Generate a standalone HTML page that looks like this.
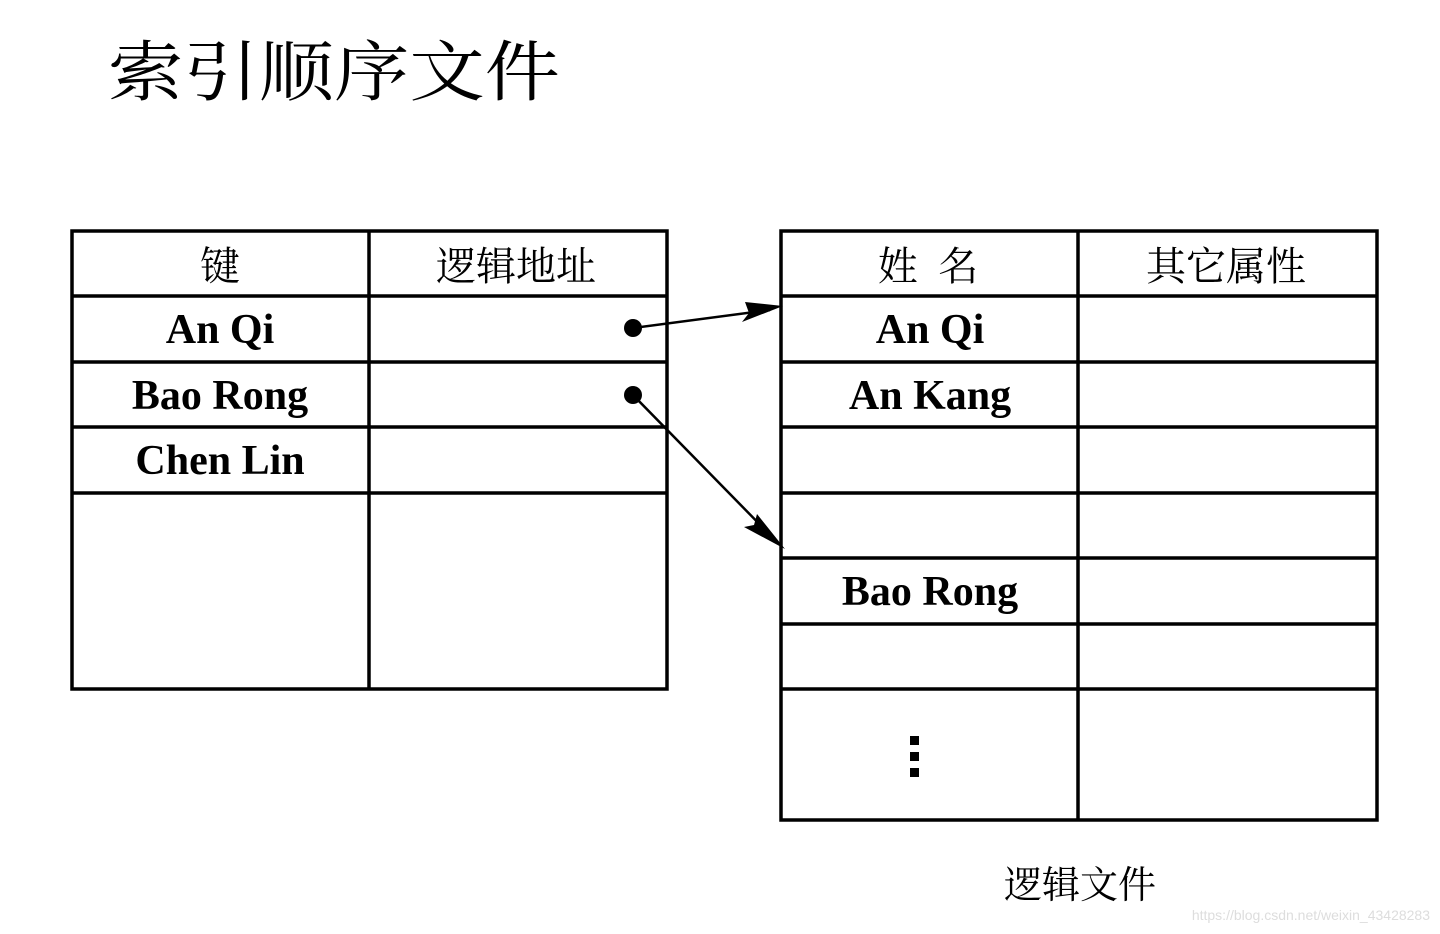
<!DOCTYPE html>
<html><head><meta charset="utf-8"><style>
html,body{margin:0;padding:0;background:#fff;}
svg{display:block;}
.cj{font-family:"Noto Serif CJK SC","Liberation Serif",serif;}
.lt{font-family:"Liberation Serif",serif;font-weight:bold;font-size:42px;}
</style></head><body>
<svg width="1440" height="934" viewBox="0 0 1440 934" xmlns="http://www.w3.org/2000/svg">
<text x="108" y="95" class="cj" font-size="66" textLength="452" lengthAdjust="spacingAndGlyphs">索引顺序文件</text>
<g stroke="#000" stroke-width="3.5" fill="none">
<rect x="72" y="231" width="595" height="458"/>
<line x1="369" y1="231" x2="369" y2="689"/>
<line x1="72" y1="296" x2="667" y2="296"/>
<line x1="72" y1="362" x2="667" y2="362"/>
<line x1="72" y1="427" x2="667" y2="427"/>
<line x1="72" y1="493" x2="667" y2="493"/>
<rect x="781" y="231" width="596" height="589"/>
<line x1="1078" y1="231" x2="1078" y2="820"/>
<line x1="781" y1="296" x2="1377" y2="296"/>
<line x1="781" y1="362" x2="1377" y2="362"/>
<line x1="781" y1="427" x2="1377" y2="427"/>
<line x1="781" y1="493" x2="1377" y2="493"/>
<line x1="781" y1="558" x2="1377" y2="558"/>
<line x1="781" y1="624" x2="1377" y2="624"/>
<line x1="781" y1="689" x2="1377" y2="689"/>
</g>
<g class="cj" font-size="40" text-anchor="middle">
<text x="220" y="280">键</text>
<text x="516" y="280">逻辑地址</text>
<text x="928" y="280">姓&#160;&#160;名</text>
<text x="1226" y="280">其它属性</text>
<text x="1080" y="898" font-size="38">逻辑文件</text>
</g>
<g class="lt" text-anchor="middle">
<text x="220" y="343">An Qi</text>
<text x="220" y="409">Bao Rong</text>
<text x="220" y="474">Chen Lin</text>
<text x="930" y="343">An Qi</text>
<text x="930" y="409">An Kang</text>
<text x="930" y="605">Bao Rong</text>
</g>
<rect x="910" y="736" width="9" height="9"/>
<rect x="910" y="752" width="9" height="9"/>
<rect x="910" y="768" width="9" height="9"/>
<circle cx="633" cy="328" r="9"/>
<circle cx="633" cy="395" r="9"/>
<g stroke="#000" stroke-width="2.5">
<line x1="633" y1="328" x2="770" y2="310"/>
<line x1="633" y1="395" x2="775" y2="540"/>
</g>
<polygon points="783,306 742,322 749,313 745,302"/>
<polygon points="785,549 744,527 754,525 757,514"/>
<text x="1430" y="920" text-anchor="end" font-family="Liberation Sans,sans-serif" font-size="14" fill="#ddd">https://blog.csdn.net/weixin_43428283</text>
</svg>
</body></html>
